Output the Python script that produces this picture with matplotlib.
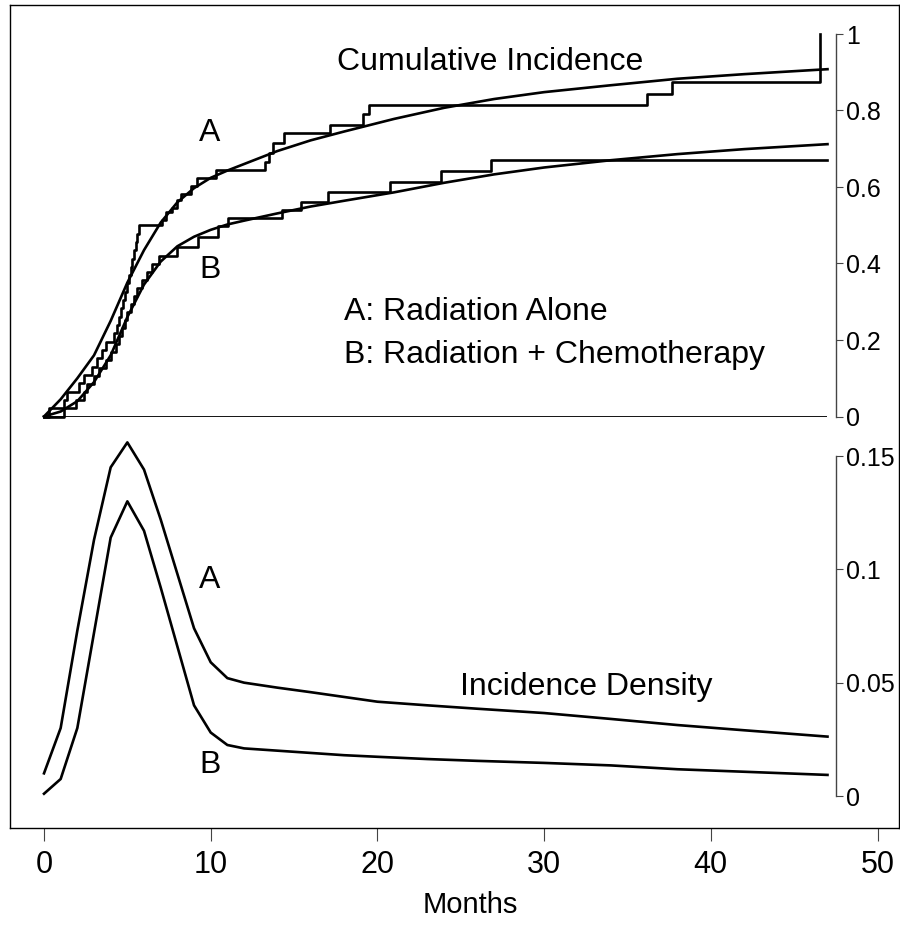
import numpy as np
import matplotlib
matplotlib.use("Agg")
import matplotlib.pyplot as plt

plt.rcParams['font.family'] = ['Liberation Sans', 'DejaVu Sans']

# Cumulative incidence: step functions (event month, value after event)
times_a = [0.3, 1.2, 1.4, 2.1, 2.4, 2.9, 3.2, 3.5, 3.7, 4.2, 4.4, 4.5, 4.6, 4.75, 4.85,
           5.0, 5.1, 5.2, 5.3, 5.4, 5.5, 5.6, 5.7, 7.06, 7.3, 7.7, 8.0, 8.2, 8.8, 9.2,
           10.3, 13.26, 13.5, 13.76, 14.4, 17.16, 19.16, 19.52, 36.2, 37.66, 46.55]
ci_a = [0.021, 0.043, 0.065, 0.087, 0.109, 0.13, 0.152, 0.174, 0.196, 0.217, 0.239,
        0.261, 0.283, 0.304, 0.326, 0.348, 0.37, 0.391, 0.413, 0.435, 0.457, 0.478, 0.5,
        0.513, 0.535, 0.544, 0.566, 0.583, 0.603, 0.623, 0.644, 0.666, 0.69, 0.714, 0.74,
        0.762, 0.79, 0.814, 0.843, 0.875, 1.0]
times_b = [1.2, 1.9, 2.4, 2.6, 3.0, 3.3, 3.7, 4.0, 4.3, 4.5, 4.7, 4.85, 5.0, 5.2, 5.4,
           5.6, 5.9, 6.2, 6.5, 6.9, 7.96, 9.26, 10.46, 11.06, 14.26, 15.42, 17.06, 20.76,
           23.82, 26.8]
ci_b = [0.021, 0.042, 0.063, 0.084, 0.105, 0.126, 0.147, 0.168, 0.189, 0.21, 0.231,
        0.252, 0.273, 0.294, 0.315, 0.336, 0.357, 0.378, 0.399, 0.42, 0.444, 0.47, 0.497,
        0.518, 0.54, 0.562, 0.586, 0.612, 0.642, 0.671]
end_a = 46.55
end_b = 47

# Cumulative incidence: fitted smooth curves
smooth_m = [0, 1, 2, 3, 4, 5, 6, 7, 8, 9, 10, 11, 12, 14, 16, 18, 21, 24, 27, 30, 34, 38, 42, 47]
smooth_a = [0, 0.045, 0.10, 0.16, 0.25, 0.35, 0.435, 0.507, 0.56, 0.597, 0.624, 0.643, 0.66,
            0.694, 0.722, 0.745, 0.778, 0.807, 0.83, 0.848, 0.866, 0.883, 0.895, 0.908]
smooth_b = [0, 0.013, 0.04, 0.09, 0.16, 0.26, 0.345, 0.405, 0.445, 0.47, 0.488, 0.502, 0.512,
            0.531, 0.549, 0.564, 0.586, 0.611, 0.633, 0.651, 0.67, 0.686, 0.699, 0.712]

# Incidence density
dens_m = [0, 1, 2, 3, 4, 5, 6, 7, 8, 9, 10, 11, 12, 14, 16, 18, 20, 23, 26, 30, 34, 38, 42, 47]
dens_a = [0.010, 0.030, 0.073, 0.113, 0.145, 0.156, 0.144, 0.122, 0.098, 0.074, 0.059, 0.052,
          0.050, 0.0478, 0.0458, 0.0437, 0.0416, 0.040, 0.0385, 0.0366, 0.034, 0.0313, 0.029,
          0.0262]
dens_b = [0.001, 0.0075, 0.030, 0.072, 0.114, 0.130, 0.117, 0.092, 0.066, 0.040, 0.028, 0.0225,
          0.021, 0.020, 0.019, 0.018, 0.0173, 0.0163, 0.0155, 0.0146, 0.0135, 0.0118, 0.0107,
          0.0093]

W, H = 900, 930
px = 16.67      # pixels per month
x0 = 44         # pixel of month 0
lw = 1.9
axcol = '#444444'
fs = 23

fig = plt.figure(figsize=(9, 9.3), dpi=100)

# outer box with month axis
box = fig.add_axes([10 / W, (H - 828) / H, 889 / W, 823 / H])
box.set_xlim((10 - x0) / px, (899 - x0) / px)
box.set_ylim(0, 1)
box.set_yticks([])
box.set_xticks([0, 10, 20, 30, 40, 50])
box.tick_params(axis='x', length=9.5, width=0.8, labelsize=22, pad=6, color=axcol)
for s in box.spines.values():
    s.set_linewidth(1.0)
box.patch.set_alpha(0)

xl = ((10 - x0) / px, (836 - x0) / px)

def side_axis(ax, ticks, labels):
    ax.set_xlim(*xl)
    ax.patch.set_alpha(0)
    for k in ['left', 'top', 'bottom']:
        ax.spines[k].set_visible(False)
    ax.spines['right'].set_bounds(ticks[0], ticks[-1])
    ax.spines['right'].set_color(axcol)
    ax.spines['right'].set_linewidth(1.0)
    ax.set_xticks([])
    ax.yaxis.tick_right()
    ax.set_yticks(ticks)
    ax.set_yticklabels(labels)
    ax.tick_params(axis='y', length=5, width=0.8, color=axcol, labelsize=18, pad=2)

# top panel: cumulative incidence
top = fig.add_axes([10 / W, (H - 416.5) / H, 826 / W, 382.5 / H])
top.set_ylim(0, 1)
side_axis(top, [0, 0.2, 0.4, 0.6, 0.8, 1], ['0', '0.2', '0.4', '0.6', '0.8', '1'])
top.hlines(0, 0, 47, color='black', lw=1.3)
top.step([0] + times_a + [end_a], [0] + ci_a + [ci_a[-1]], where='post', color='black', lw=lw,
         clip_on=False)
top.step([0] + times_b + [end_b], [0] + ci_b + [ci_b[-1]], where='post', color='black', lw=lw,
         clip_on=False)
top.plot(smooth_m, smooth_a, color='black', lw=lw, clip_on=False)
top.plot(smooth_m, smooth_b, color='black', lw=lw, clip_on=False)
top.text(26.75, 0.927, 'Cumulative Incidence', fontsize=fs, ha='center', va='center')
top.text(9.96, 0.741, 'A', fontsize=fs, ha='center', va='center')
top.text(9.96, 0.383, 'B', fontsize=fs, ha='center', va='center')
top.text(18.0, 0.273, 'A: Radiation Alone', fontsize=fs, ha='left', va='center')
top.text(18.0, 0.161, 'B: Radiation + Chemotherapy', fontsize=fs, ha='left', va='center')

# bottom panel: incidence density
bot = fig.add_axes([10 / W, (H - 796) / H, 826 / W, 340 / H])
bot.set_ylim(0, 0.15)
side_axis(bot, [0, 0.05, 0.1, 0.15], ['0', '0.05', '0.1', '0.15'])
bot.plot(dens_m, dens_a, color='black', lw=lw, clip_on=False)
bot.plot(dens_m, dens_b, color='black', lw=lw, clip_on=False)
bot.text(9.96, 0.0953, 'A', fontsize=fs, ha='center', va='center')
bot.text(9.96, 0.0137, 'B', fontsize=fs, ha='center', va='center')
bot.text(32.5, 0.048, 'Incidence Density', fontsize=fs, ha='center', va='center')

fig.text(470 / W, 1 - 905 / H, 'Months', fontsize=21, ha='center', va='center')

fig.savefig('out.png', dpi=100)
